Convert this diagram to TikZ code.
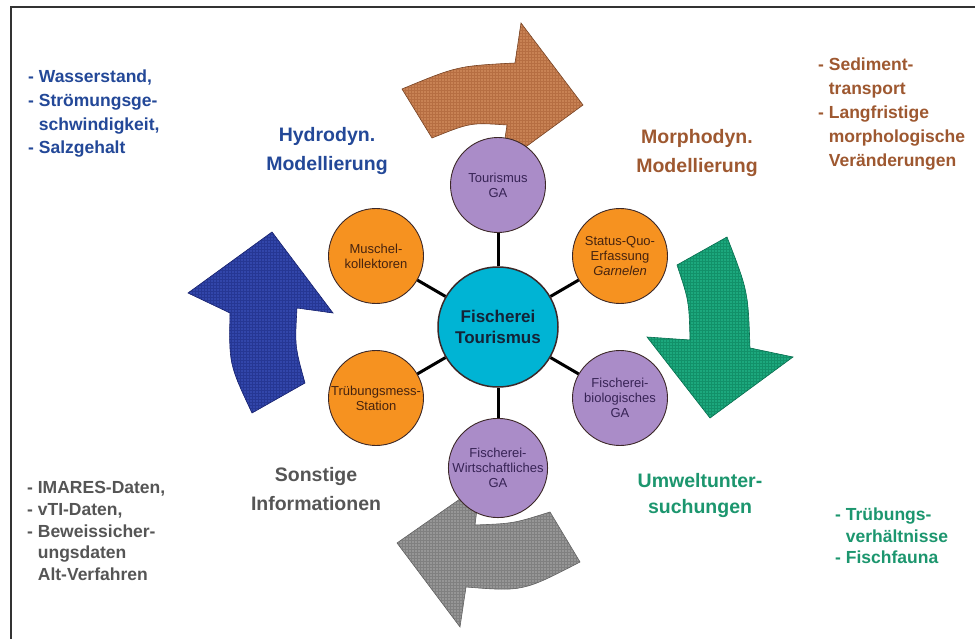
\documentclass[tikz,border=0pt]{standalone}
\usepackage{fontspec}
\setmainfont{Liberation Sans}
\usetikzlibrary{patterns}
\definecolor{brownA}{RGB}{200,130,84}
\definecolor{brownP}{RGB}{182,110,66}
\definecolor{brownD}{RGB}{120,70,40}
\definecolor{tealA}{RGB}{28,168,125}
\definecolor{tealP}{RGB}{18,145,105}
\definecolor{tealD}{RGB}{10,110,80}
\definecolor{blueA}{RGB}{50,70,170}
\definecolor{blueP}{RGB}{38,55,148}
\definecolor{blueD}{RGB}{25,35,110}
\definecolor{grayA}{RGB}{150,150,150}
\definecolor{grayP}{RGB}{128,128,128}
\definecolor{grayD}{RGB}{100,100,100}
\definecolor{orangeC}{RGB}{246,146,32}
\definecolor{purpleC}{RGB}{170,140,200}
\definecolor{cyanC}{RGB}{0,180,212}
\definecolor{orangeT}{RGB}{70,35,15}
\definecolor{purpleT}{RGB}{55,35,85}
\definecolor{ctrT}{RGB}{20,35,55}
\definecolor{circD}{RGB}{60,40,40}
\definecolor{hblue}{RGB}{35,72,152}
\definecolor{hbrown}{RGB}{158,88,48}
\definecolor{hgreen}{RGB}{28,150,110}
\definecolor{hgray}{RGB}{85,85,85}
\begin{document}
\begin{tikzpicture}[x=1pt,y=-1pt,
  bigarrow/.style={line width=0.6pt, line join=miter},
  sat/.style={circle, minimum size=95pt, inner sep=0pt, draw=circD, line width=0.9pt,
    align=center, font=\fontsize{13}{15}\selectfont},
  orng/.style={sat, fill=orangeC, text=orangeT},
  purp/.style={sat, fill=purpleC, text=purpleT},
  ctr/.style={circle, minimum size=120pt, inner sep=0pt, draw=circD, line width=1.5pt,
    fill=cyanC, text=ctrT, align=center, font=\bfseries\fontsize{17}{21.5}\selectfont},
  link/.style={line width=3pt, black},
  head/.style={align=center, font=\bfseries\fontsize{19.5}{28.5}\selectfont},
  lst/.style={align=left, anchor=north west, inner sep=0pt}
]
\useasboundingbox (0,0) rectangle (975,639);
\fill[white] (0,0) rectangle (975,639);
\draw[line width=1.5pt, black!80] (11,650) -- (11,7) -- (990,7);

% brown arrow (top)
\path[bigarrow, preaction={fill=brownA}, pattern=grid, pattern color=brownP, draw=brownD]
  (402,89) .. controls (457.5,66) .. (515,63) -- (521,23) -- (583,105) -- (501,165)
  -- (507,125) .. controls (470.5,122.5) .. (432,138) -- cycle;
% teal arrow (right)
\path[bigarrow, preaction={fill=tealA}, pattern=grid, pattern color=tealP, draw=tealD]
  (727,237) .. controls (748,291) .. (750,348) -- (793,357) -- (710,418) -- (647,337)
  -- (690,340) .. controls (689,301) .. (677,265) -- cycle;
% gray arrow (bottom)
\path[bigarrow, preaction={fill=grayA}, pattern=grid, pattern color=grayP, draw=grayD]
  (550,512) .. controls (513.5,523.5) .. (475,525) -- (480,485) -- (397,543) -- (460,627)
  -- (466,587) .. controls (523,591.5) .. (580,562) -- cycle;
% blue arrow (left)
\path[bigarrow, preaction={fill=blueA}, pattern=grid, pattern color=blueP, draw=blueD]
  (272,232) -- (333,313) -- (297,308) .. controls (294.8,346.3) .. (305,383)
  -- (252,413) .. controls (229,364) .. (230,313) -- (188,293) -- cycle;

% circles
\node[ctr] (c) at (498,327) {Fischerei\\Tourismus};
\node[purp] (t) at (498,185) {Tourismus\\GA};
\node[orng] (m) at (376,256) {Muschel-\\kollektoren};
\node[orng] (s) at (620,256) {Status-Quo-\\Erfassung\\\textit{Garnelen}};
\node[orng] (tr) at (376,398) {Trübungsmess-\\Station};
\node[purp] (fb) at (620,398) {Fischerei-\\biologisches\\GA};
\node[purp] (fw) at (498,468) {Fischerei-\\Wirtschaftliches\\GA};

\foreach \n in {t,m,s,tr,fb,fw} \draw[link] (c) -- (\n);

% headings
\node[head, text=hblue] (h1) at (327,151) {Hydrodyn.\\Modellierung};
\node[head, text=hbrown] (h2) at (697,153) {Morphodyn.\\Modellierung};
\node[head, text=hgray] (h3) at (316,489) {Sonstige\\Informationen};
\node[head, text=hgreen, font=\bfseries\fontsize{19.5}{26}\selectfont] (h4) at (700,495) {Umweltunter-\\suchungen};

% lists
\node[lst, text=hblue, font=\bfseries\fontsize{17.5}{23.6}\selectfont] (l1) at (28,70)
  {- Wasserstand,\\- Strömungsge-\\\hphantom{- }schwindigkeit,\\- Salzgehalt};
\node[lst, text=hbrown, font=\bfseries\fontsize{17.5}{23.8}\selectfont] (l2) at (818,58)
  {- Sediment-\\\hphantom{- }transport\\- Langfristige\\\hphantom{- }morphologische\\\hphantom{- }Veränderungen};
\node[lst, text=hgray, font=\bfseries\fontsize{17.5}{21.8}\selectfont] (l3) at (27,481)
  {- IMARES-Daten,\\- vTI-Daten,\\- Beweissicher-\\\hphantom{- }ungsdaten\\\hphantom{- }Alt-Verfahren};
\node[lst, text=hgreen, font=\bfseries\fontsize{17.5}{21.5}\selectfont] (l4) at (835,508)
  {- Trübungs-\\\hphantom{- }verhältnisse\\- Fischfauna};
\end{tikzpicture}
\end{document}
